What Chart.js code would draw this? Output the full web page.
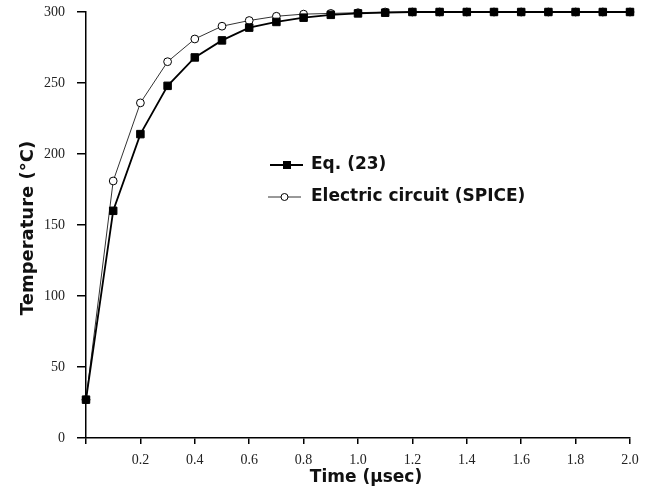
<!DOCTYPE html>
<html>
<head>
<meta charset="utf-8">
<script src="https://cdn.jsdelivr.net/npm/chart.js@4/dist/chart.umd.min.js"></script>
<style>
  html, body { margin: 0; padding: 0; background: #fff; }
  #wrap { width: 650px; height: 491px; }
</style>
</head>
<body>
<div id="wrap"><canvas id="c" width="650" height="491"></canvas></div>
<script>
// ---- data ----
const timeUsec = [0.0, 0.1, 0.2, 0.3, 0.4, 0.5, 0.6, 0.7, 0.8, 0.9, 1.0,
                  1.1, 1.2, 1.3, 1.4, 1.5, 1.6, 1.7, 1.8, 1.9, 2.0];
const eq23 = [27, 160, 214, 248, 268, 280, 289, 293, 296, 298, 299,
              299.5, 300, 300, 300, 300, 300, 300, 300, 300, 300];
const spice = [27, 181, 236, 265, 281, 290, 294, 297, 298.5, 299, 299.5,
               300, 300, 300, 300, 300, 300, 300, 300, 300, 300];
const seriesNames = ['Eq. (23)', 'Electric circuit (SPICE)'];
const xTitle = 'Time (\u03BCsec)';
const yTitle = 'Temperature (\u00B0C)';
const xTickStep = 0.2;
const yTickStep = 50;

const toPts = (vals) => vals.map((v, i) => ({ x: timeUsec[i], y: v }));

const tickFont = { family: 'Liberation Serif', size: 14 };
const boldFont = 'bold 17px "DejaVu Sans"';

const overlay = {
  id: 'overlay',
  afterDraw(chart) {
    const ctx = chart.ctx;
    ctx.save();
    ctx.fillStyle = '#111';
    ctx.font = boldFont;
    ctx.textAlign = 'center';
    ctx.textBaseline = 'middle';
    // x title
    ctx.fillText(xTitle, 366, 478);
    // y title
    ctx.save();
    ctx.translate(28, 228);
    ctx.rotate(-Math.PI / 2);
    ctx.font = 'bold 18px "DejaVu Sans"';
    ctx.fillText(yTitle, 0, 0);
    ctx.restore();

    // legend
    ctx.textAlign = 'left';
    ctx.font = boldFont;
    // row 1: Eq. (23)
    ctx.strokeStyle = '#000';
    ctx.lineWidth = 1.8;
    ctx.beginPath(); ctx.moveTo(270, 165); ctx.lineTo(303, 165); ctx.stroke();
    ctx.fillStyle = '#000';
    ctx.fillRect(283, 161, 8, 8);
    ctx.fillStyle = '#111';
    ctx.fillText(seriesNames[0], 311, 165);
    // row 2: SPICE
    ctx.strokeStyle = '#333';
    ctx.lineWidth = 1;
    ctx.beginPath(); ctx.moveTo(268, 197); ctx.lineTo(301, 197); ctx.stroke();
    ctx.beginPath(); ctx.arc(284.5, 197, 3.5, 0, Math.PI * 2);
    ctx.fillStyle = '#fff'; ctx.fill();
    ctx.strokeStyle = '#000'; ctx.stroke();
    ctx.fillStyle = '#111';
    ctx.fillText(seriesNames[1], 311, 197);
    ctx.restore();
  }
};

new Chart(document.getElementById('c'), {
  type: 'line',
  data: {
    datasets: [
      {
        label: seriesNames[0],
        data: toPts(eq23),
        borderColor: '#000',
        borderWidth: 1.8,
        pointStyle: 'rect',
        pointRadius: 5.3,
        pointBackgroundColor: '#000',
        pointBorderColor: '#000',
        pointBorderWidth: 1,
        tension: 0,
        clip: false
      },
      {
        label: seriesNames[1],
        data: toPts(spice),
        borderColor: '#333',
        borderWidth: 1,
        pointStyle: 'circle',
        pointRadius: 3.9,
        pointBackgroundColor: '#fff',
        pointBorderColor: '#000',
        pointBorderWidth: 1,
        tension: 0,
        clip: false
      }
    ]
  },
  options: {
    responsive: false,
    animation: false,
    devicePixelRatio: 1,
    layout: { padding: { left: 0, top: 12, right: 20, bottom: 0 } },
    plugins: {
      legend: { display: false },
      tooltip: { enabled: false },
      title: { display: false }
    },
    scales: {
      x: {
        type: 'linear',
        min: 0, max: 2,
        afterFit(s) { s.height = 53; s.paddingLeft = 0; s.paddingRight = 0; },
        border: { display: true, color: '#000', width: 1.5 },
        grid: { drawOnChartArea: false, drawTicks: true, tickLength: 6, color: '#000', lineWidth: 1.5 },
        ticks: {
          stepSize: xTickStep,
          padding: 8,
          color: '#222',
          font: tickFont,
          maxRotation: 0,
          autoSkip: false,
          callback: (v) => (Math.abs(v) < 1e-9 ? '' : Number(v).toFixed(1))
        }
      },
      y: {
        type: 'linear',
        min: 0, max: 300,
        afterFit(s) { s.width = 86; s.paddingTop = 0; s.paddingBottom = 0; },
        border: { display: true, color: '#000', width: 1.5 },
        grid: { drawOnChartArea: false, drawTicks: true, tickLength: 9, color: '#000', lineWidth: 1.5 },
        ticks: {
          stepSize: yTickStep,
          padding: 12,
          color: '#222',
          font: tickFont,
          autoSkip: false
        }
      }
    }
  },
  plugins: [overlay]
});
</script>
</body>
</html>
